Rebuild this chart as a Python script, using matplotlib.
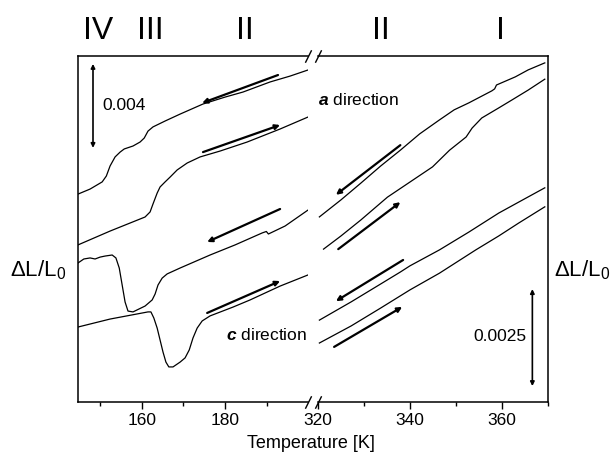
import matplotlib
matplotlib.use("Agg")
import matplotlib.pyplot as plt

plt.rcParams['font.family'] = ['Liberation Sans', 'DejaVu Sans']
plt.rcParams['mathtext.fontset'] = 'custom'
plt.rcParams['mathtext.rm'] = 'Liberation Sans'
plt.rcParams['mathtext.it'] = 'Liberation Sans:italic:bold'

# strain offsets in units of 1e-3 (curves shifted for clarity)
# low temperature part
a_cool_T = [144.7, 147.6, 150.5, 151.5, 152.4, 153.6, 154.8, 155.8, 157.9, 159.6, 160.6,
            161.5, 162.7, 165.6, 169.2, 174.7, 180.0, 184.3, 190.8, 195.6, 199.9]
a_cool_y = [9.90, 10.14, 10.48, 10.76, 11.24, 11.67, 11.90, 12.05, 12.19, 12.38, 12.57,
            12.90, 13.10, 13.38, 13.71, 14.19, 14.52, 14.76, 15.24, 15.52, 15.81]

a_heat_T = [144.7, 152.4, 160.8, 162.0, 162.7, 163.7, 164.4, 165.6, 166.8, 168.5, 170.9,
            174.0, 178.8, 185.3, 193.2, 199.9]
a_heat_y = [7.48, 8.14, 8.81, 9.05, 9.43, 9.95, 10.24, 10.48, 10.71, 11.05, 11.38,
            11.67, 11.95, 12.38, 13.00, 13.57]

c_cool_T = [144.7, 146.1, 147.6, 148.8, 150.0, 151.2, 152.9, 153.8, 154.6, 155.3, 156.0,
            156.7, 157.9, 160.8, 162.5, 163.2, 163.9, 164.9, 166.1, 169.2, 176.4, 182.4,
            188.9, 189.9, 190.4, 194.4, 199.9]
c_cool_y = [6.62, 6.81, 6.86, 6.81, 6.90, 6.95, 7.00, 6.86, 6.38, 5.57, 4.76,
            4.33, 4.29, 4.57, 4.86, 5.14, 5.57, 5.90, 6.10, 6.38, 7.00, 7.48,
            8.05, 8.12, 8.00, 8.38, 9.14]

c_heat_T = [144.7, 152.4, 161.5, 162.2, 162.9, 163.7, 164.4, 165.1, 165.8, 166.5, 167.5,
            169.2, 170.4, 171.4, 172.3, 173.3, 174.5, 176.4, 181.9, 186.0, 193.2, 199.9]
c_heat_y = [3.57, 3.95, 4.29, 4.29, 4.00, 3.52, 2.95, 2.38, 1.90, 1.67, 1.67,
            1.90, 2.10, 2.48, 3.05, 3.52, 3.86, 4.10, 4.52, 4.86, 5.52, 6.05]

# high temperature part
ha_cool_T = [320.3, 325.0, 329.3, 333.6, 337.9, 342.1, 346.4, 349.6, 352.8, 357.8, 358.4,
             358.8, 362.9, 365.7, 369.3]
ha_cool_y = [4.77, 5.21, 5.64, 6.08, 6.49, 6.91, 7.27, 7.53, 7.71, 8.02, 8.07,
             8.17, 8.38, 8.56, 8.74]

ha_heat_T = [321.2, 325.0, 329.3, 335.1, 340.0, 344.9, 348.6, 352.2, 353.5, 355.6, 359.3,
             362.1, 365.7, 369.3]
ha_heat_y = [3.94, 4.28, 4.69, 5.28, 5.67, 6.06, 6.49, 6.83, 7.06, 7.32, 7.58,
             7.78, 8.04, 8.32]

hc_cool_T = [320.3, 327.2, 333.6, 337.9, 340.0, 346.4, 352.8, 359.3, 363.6, 369.3]
hc_cool_y = [2.11, 2.58, 3.04, 3.35, 3.51, 3.92, 4.38, 4.87, 5.15, 5.52]

hc_heat_T = [320.3, 327.2, 333.6, 340.0, 346.4, 354.3, 359.3, 363.6, 369.3]
hc_heat_y = [1.52, 1.96, 2.42, 2.89, 3.32, 3.92, 4.28, 4.61, 5.03]

# direction arrows: (T_tail, y_tail, T_head, y_head)
arrows_low = [(192.7, 15.57, 174.5, 14.24), (174.7, 11.90, 193.2, 13.19),
              (193.2, 9.19, 175.7, 7.62), (175.7, 4.24, 193.2, 5.76)]
arrows_high = [(337.9, 6.62, 323.9, 5.34), (324.4, 3.94, 337.9, 5.15),
               (338.5, 3.66, 323.9, 2.60), (323.5, 1.42, 338.3, 2.45)]

phases = ['IV', 'III', 'II', 'II', 'I']
phase_x = [98, 150, 245, 381, 500]

fig = plt.figure(figsize=(6.14, 4.63), dpi=100)
ax1 = fig.add_axes([78/614, 61/463, 230/614, 346/463])
ax2 = fig.add_axes([318/614, 61/463, 230/614, 346/463])

lw = 0.9
for T, y in [(a_cool_T, a_cool_y), (a_heat_T, a_heat_y), (c_cool_T, c_cool_y), (c_heat_T, c_heat_y)]:
    ax1.plot(T, y, color='k', lw=lw)
for T, y in [(ha_cool_T, ha_cool_y), (ha_heat_T, ha_heat_y), (hc_cool_T, hc_cool_y), (hc_heat_T, hc_heat_y)]:
    ax2.plot(T, y, color='k', lw=lw)

arrow_style = dict(arrowstyle='-|>', lw=1.6, color='k', mutation_scale=7, shrinkA=0, shrinkB=0)
for ax, arr in [(ax1, arrows_low), (ax2, arrows_high)]:
    for t0, y0, t1, y1 in arr:
        ax.annotate('', xy=(t1, y1), xytext=(t0, y0), arrowprops=arrow_style)

# scale bars
bar_style = dict(arrowstyle='<|-|>', lw=1.2, color='k', mutation_scale=6, shrinkA=0, shrinkB=0)
ax1.annotate('', xy=(148.3, 16.10), xytext=(148.3, 12.10), arrowprops=bar_style)
ax1.text(150.5, 14.14, '0.004', fontsize=12.5, ha='left', va='center')
ax2.annotate('', xy=(366.6, 2.91), xytext=(366.6, 0.41), arrowprops=bar_style)
ax2.text(365.3, 1.68, '0.0025', fontsize=12.5, ha='right', va='center')

ax2.text(320.0, 7.78, r'$a$ direction', fontsize=12.5, ha='left', va='center')
ax1.text(180.3, 3.19, r'$c$ direction', fontsize=12.5, ha='left', va='center')

ax1.set_xlim(144.7, 199.9)
ax1.set_ylim(0, 346/21)
ax2.set_xlim(320, 369.6)
ax2.set_ylim(0, 346/38.8)

ax1.set_xticks([160, 180])
ax1.set_xticks([150, 170, 190], minor=True)
ax2.set_xticks([320, 340, 360])
ax2.set_xticks([330, 350, 370], minor=True)
for ax in (ax1, ax2):
    ax.set_yticks([])
    ax.tick_params(axis='x', which='major', direction='out', length=5, width=1, labelsize=12.5, pad=3)
    ax.tick_params(axis='x', which='minor', direction='out', length=3, width=1)
    for s in ax.spines.values():
        s.set_linewidth(1.1)
ax1.spines['right'].set_visible(False)
ax2.spines['left'].set_visible(False)

# break marks
brk = dict(marker=[(-1, -2), (1, 2)], markersize=9, linestyle='none', color='k', mec='k', mew=1, clip_on=False)
ax1.plot([1, 1], [0, 1], transform=ax1.transAxes, **brk)
ax2.plot([0, 0], [0, 1], transform=ax2.transAxes, **brk)

fig.text(311/614, 1 - 443/463, 'Temperature [K]', fontsize=13, ha='center', va='center')
fig.text(38/614, 1 - 270/463, r'ΔL/L$_0$', fontsize=16, ha='center', va='center')
fig.text(582/614, 1 - 270/463, r'ΔL/L$_0$', fontsize=16, ha='center', va='center')

for lab, px in zip(phases, phase_x):
    fig.text(px/614, 1 - 31/463, lab, fontsize=23, ha='center', va='center')

fig.savefig('out.png', dpi=100)
